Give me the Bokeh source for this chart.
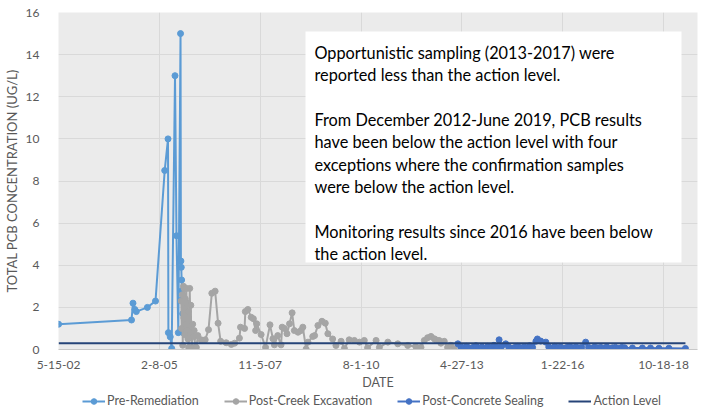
from datetime import datetime, timedelta

from bokeh.plotting import figure
from bokeh.layouts import column
from bokeh.models import (FixedTicker, Range1d, Legend, LegendItem,
                          BoxAnnotation, Label)
from bokeh.embed import file_html
from bokeh.resources import INLINE

# ---------------- data (dates as decimal years, values in ug/L) ----------------
pre_dates = [2002.37, 2004.35, 2004.39, 2004.44, 2004.48, 2004.78, 2005.00,
             2005.25, 2005.34, 2005.35, 2005.40, 2005.44, 2005.53, 2005.57,
             2005.62, 2005.68, 2005.69, 2005.70, 2005.71, 2005.72, 2005.73,
             2005.74, 2005.75]
pre_vals = [1.2, 1.4, 2.2, 1.9, 1.8, 2.0, 2.3,
            8.5, 10.0, 0.8, 0.6, 0.05, 13.0, 5.4,
            0.8, 15.0, 4.2, 3.9, 3.3, 2.8, 2.4,
            1.7, 0.8]

creek_dates = [2005.70, 2005.71, 2005.73, 2005.74, 2005.76, 2005.77, 2005.78,
               2005.80, 2005.81, 2005.82, 2005.84, 2005.85, 2005.86, 2005.88,
               2005.89, 2005.90, 2005.93, 2005.95, 2005.96, 2005.97, 2005.99,
               2006.01, 2006.04, 2006.05, 2006.08, 2006.11, 2006.15, 2006.24,
               2006.35, 2006.44, 2006.53, 2006.62, 2006.70, 2006.77, 2006.92,
               2007.06, 2007.15, 2007.28, 2007.31, 2007.42, 2007.44, 2007.51,
               2007.60, 2007.66, 2007.72, 2007.75, 2007.87, 2007.99, 2008.11,
               2008.19, 2008.23, 2008.32, 2008.41, 2008.44, 2008.50, 2008.57,
               2008.64, 2008.71, 2008.77, 2008.87, 2008.95, 2009.00, 2009.09,
               2009.14, 2009.27, 2009.32, 2009.41, 2009.52, 2009.61, 2009.68,
               2009.81, 2009.90, 2010.04, 2010.13, 2010.26, 2010.40, 2010.54,
               2010.67, 2010.76, 2010.99, 2011.08, 2011.31, 2011.58, 2011.85,
               2012.07, 2012.21, 2012.30, 2012.39, 2012.48, 2012.57, 2012.61,
               2012.70, 2012.75, 2012.84, 2012.93, 2013.02, 2013.11]
creek_vals = [2.3, 1.0, 2.6, 0.2, 3.0, 1.5, 2.9,
              0.7, 2.4, 1.2, 2.9, 0.9, 2.2, 0.5,
              1.8, 0.1, 2.9, 0.8, 2.1, 0.7, 0.1,
              1.2, 0.6, 0.9, 0.1, 0.1, 0.66, 0.46,
              0.46, 0.94, 2.67, 2.77, 1.25, 0.39, 0.32,
              0.24, 0.30, 0.54, 1.06, 1.00, 1.80, 1.90,
              1.53, 1.46, 0.90, 1.22, 0.71, 0.10, 1.17,
              0.51, 0.22, 0.66, 0.22, 1.06, 1.00, 0.75,
              1.22, 1.74, 0.90, 0.82, 0.90, 1.06, 0.02,
              0.35, 0.62, 0.66, 1.14, 1.34, 1.25, 0.75,
              0.50, 0.19, 0.39, 0.05, 0.46, 0.43, 0.35,
              0.43, 0.08, 0.43, 0.10, 0.35, 0.27, 0.19,
              0.14, 0.10, 0.43, 0.56, 0.62, 0.51, 0.46,
              0.43, 0.30, 0.39, 0.10, 0.20, 0.03]

seal_dates = [2013.21, 2013.29, 2013.37, 2013.45, 2013.53, 2013.62, 2013.70,
              2013.78, 2013.86, 2013.94, 2014.02, 2014.10, 2014.19, 2014.27,
              2014.33, 2014.40, 2014.51, 2014.59, 2014.68, 2014.76, 2014.84,
              2014.92, 2015.00, 2015.08, 2015.16, 2015.24, 2015.33, 2015.37,
              2015.46, 2015.60, 2015.68, 2015.76, 2015.84, 2015.92, 2016.00,
              2016.09, 2016.17, 2016.25, 2016.33, 2016.41, 2016.49, 2016.57,
              2016.68, 2016.76, 2016.84, 2016.92, 2017.01, 2017.09, 2017.17,
              2017.25, 2017.33, 2017.41, 2017.49, 2017.58, 2017.66, 2017.74,
              2017.95, 2018.22, 2018.44, 2018.67, 2018.94, 2019.39]
seal_vals = [0.27, 0.12, 0.08, 0.15, 0.05, 0.10, 0.18,
             0.06, 0.12, 0.03, 0.15, 0.08, 0.20, 0.10,
             0.46, 0.15, 0.27, 0.12, 0.05, 0.10, 0.15,
             0.06, 0.12, 0.08, 0.18, 0.10, 0.39, 0.50,
             0.40, 0.35, 0.12, 0.05, 0.15, 0.08, 0.12,
             0.05, 0.10, 0.15, 0.06, 0.12, 0.08, 0.10,
             0.35, 0.10, 0.05, 0.12, 0.08, 0.10, 0.06,
             0.12, 0.05, 0.08, 0.10, 0.06, 0.10, 0.08,
             0.07, 0.07, 0.07, 0.06, 0.06, 0.05]

action_dates = [2002.37, 2019.39]
action_vals = [0.3, 0.3]

x_tick_dates = ["2002-05-15", "2005-02-08", "2007-11-05", "2010-08-01",
                "2013-04-27", "2016-01-22", "2018-10-18"]
x_tick_labels = ["5-15-02", "2-8-05", "11-5-07", "8-1-10",
                 "4-27-13", "1-22-16", "10-18-18"]
y_ticks = [0, 2, 4, 6, 8, 10, 12, 14, 16]

note_lines = ["Opportunistic sampling (2013-2017) were",
              "reported less than the action level.",
              "",
              "From December 2012-June 2019, PCB results",
              "have been below the action level with four",
              "exceptions where the confirmation samples",
              "were below the action level.",
              "",
              "Monitoring results since 2016 have been below",
              "the action level."]

legend_labels = ["Pre-Remediation", "Post-Creek Excavation",
                 "Post-Concrete Sealing", "Action Level"]

# ---------------- helpers ----------------
EPOCH = datetime(1970, 1, 1)


def dec_to_ms(y):
    yr = int(y)
    s = datetime(yr, 1, 1)
    e = datetime(yr + 1, 1, 1)
    d = s + (e - s) * (y - yr)
    return (d - EPOCH).total_seconds() * 1000.0


def iso_to_ms(s):
    return (datetime.strptime(s, "%Y-%m-%d") - EPOCH).total_seconds() * 1000.0


tick_ms = [iso_to_ms(s) for s in x_tick_dates]
x_start = datetime(2002, 5, 15)
x_end = x_start + timedelta(days=6337)

GRAY_TXT = "#595959"
FONT = "Lato"
COLORS = ["#5B9BD5", "#A5A5A5", "#4472C4"]
ACTION_COLOR = "#264478"

series = [(pre_dates, pre_vals), (creek_dates, creek_vals),
          (seal_dates, seal_vals)]

# ---------------- main chart ----------------
p = figure(width=703, height=393, output_backend="svg", toolbar_location=None,
           x_range=Range1d((x_start - EPOCH).total_seconds() * 1000.0,
                           (x_end - EPOCH).total_seconds() * 1000.0),
           y_range=Range1d(0, 16),
           min_border_left=57, min_border_right=6, min_border_top=12,
           min_border_bottom=44)
p.background_fill_color = "#EBEBEB"
p.border_fill_color = "white"
p.outline_line_color = None

p.xaxis.ticker = FixedTicker(ticks=tick_ms)
p.xaxis.major_label_overrides = {t: l for t, l in zip(tick_ms, x_tick_labels)}
p.yaxis.ticker = FixedTicker(ticks=y_ticks)
for ax in (p.xaxis, p.yaxis):
    ax.major_tick_line_color = None
    ax.minor_tick_line_color = None
    ax.major_label_text_font = FONT
    ax.major_label_text_font_size = "12px"
    ax.major_label_text_color = GRAY_TXT
    ax.axis_label_text_font = FONT
    ax.axis_label_text_color = GRAY_TXT
    ax.axis_label_text_font_style = "normal"
p.xaxis.axis_line_color = "#C8C8C8"
p.yaxis.axis_line_color = None
p.xaxis.major_label_standoff = 5
p.xaxis.axis_label = "DATE"
p.xaxis.axis_label_text_font_size = "12.5px"
p.xaxis.axis_label_standoff = 3
p.yaxis.major_label_standoff = 13
p.yaxis.axis_label = "TOTAL PCB CONCENTRATION (UG/L)"
p.yaxis.axis_label_text_font_size = "13px"
p.yaxis.axis_label_standoff = 3

p.xgrid.grid_line_color = "#D9D9D9"
p.ygrid.grid_line_color = "#D9D9D9"

for (d, v), c in zip(series, COLORS):
    xs = [dec_to_ms(t) for t in d]
    p.line(xs, v, line_color=c, line_width=2)
    p.scatter(xs, v, marker="circle", size=6, fill_color=c, line_color=c)

action_xs = [dec_to_ms(t) for t in action_dates]
p.line(action_xs, action_vals, line_color=ACTION_COLOR, line_width=2)

# note box (screen units relative to the plot frame)
box = BoxAnnotation(left=247, right=623, top=318, bottom=87,
                    left_units="screen", right_units="screen",
                    top_units="screen", bottom_units="screen",
                    fill_color="white", fill_alpha=1.0, line_color=None)
p.add_layout(box)

for k, line in enumerate(note_lines):
    if not line:
        continue
    baseline_page = 51.7 + 22.4 * k
    p.add_layout(Label(x=256, y=349 - baseline_page, x_units="screen",
                       y_units="screen", text=line, text_font=FONT,
                       text_font_size="16.3px", text_color="black",
                       text_baseline="alphabetic", text_align="left"))

# ---------------- legend strip below the chart ----------------
# same series drawn again, but far outside this strip's ranges (so hidden);
# they only feed the legend glyphs
lg = figure(width=703, height=16, output_backend="svg", toolbar_location=None,
            title=None, x_axis_location=None, y_axis_location=None,
            x_range=Range1d(0, 1), y_range=Range1d(0, 1), min_border=0)
lg.outline_line_color = None
lg.background_fill_color = "white"
lg.border_fill_color = "white"
lg.xgrid.visible = False
lg.ygrid.visible = False

items = []
for (d, v), c, lab in zip(series, COLORS, legend_labels[:3]):
    xs = [dec_to_ms(t) for t in d]
    lr = lg.line(xs, v, line_color=c, line_width=2)
    sr = lg.scatter(xs, v, marker="circle", size=6, fill_color=c, line_color=c)
    items.append(LegendItem(label=lab, renderers=[lr, sr]))
ar = lg.line(action_xs, action_vals, line_color=ACTION_COLOR, line_width=2)
items.append(LegendItem(label=legend_labels[3], renderers=[ar]))

legend = Legend(items=items, orientation="horizontal", location=(24, 1),
                padding=0, margin=0, spacing=25, label_standoff=2,
                glyph_width=23, glyph_height=14, label_height=14,
                label_text_font=FONT, label_text_font_size="12.5px",
                label_text_color=GRAY_TXT, background_fill_alpha=0,
                border_line_color=None)
lg.add_layout(legend)

layout = column(p, lg, spacing=0)
open("out.html", "w").write(file_html(layout, INLINE))
